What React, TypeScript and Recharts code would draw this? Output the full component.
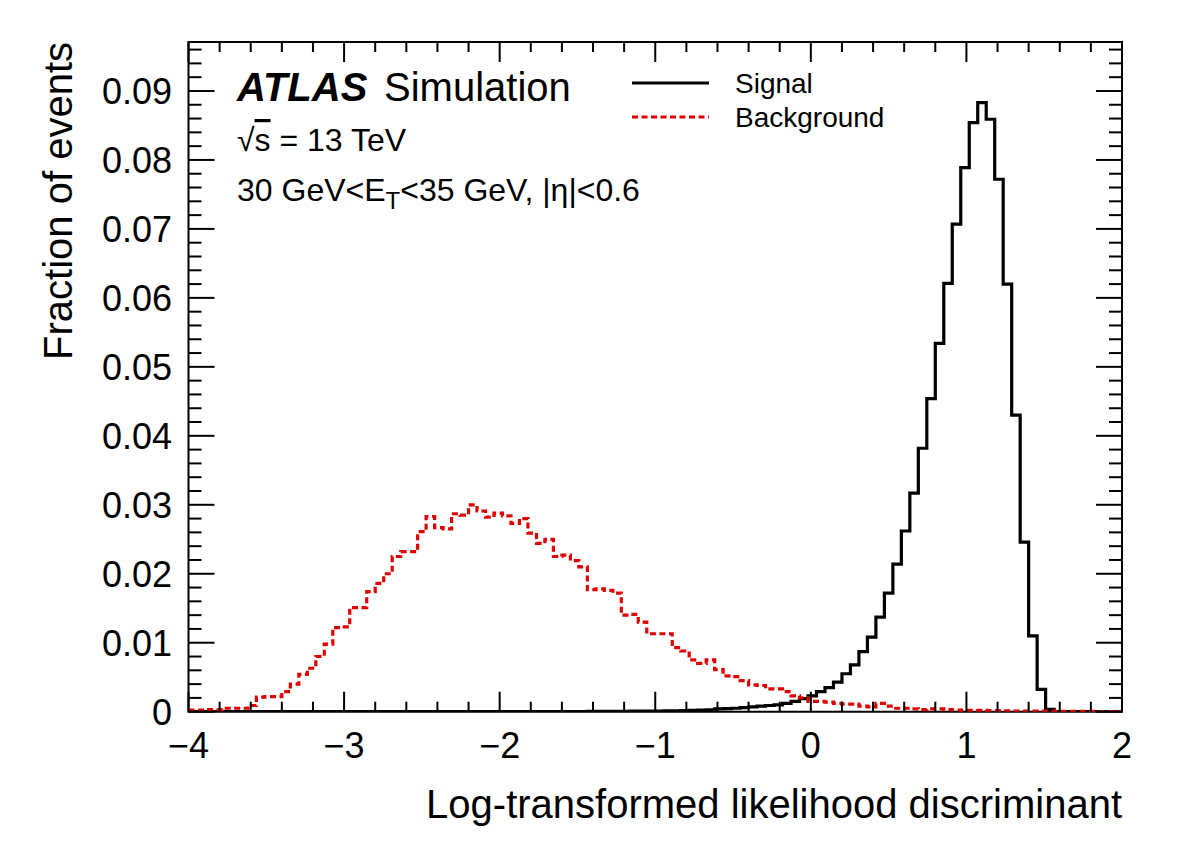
import React from 'react';
import { LineChart, Line, XAxis, YAxis, ReferenceArea } from 'recharts';

// histogram: 110 bins from -4 to 2
const X_MIN = -4;
const X_MAX = 2;
const N_BINS = 110;
const Y_MAX = 0.0971;

const signal = [
  0, 0, 0, 0, 0, 0, 0, 0, 0, 0,
  0, 0, 0, 0, 0, 0, 0, 0, 0, 0,
  0, 0, 0, 0, 0, 0, 0, 0, 0, 0,
  0, 0, 0, 0, 0, 0, 0, 0, 0, 0,
  0.00001, 0.00001, 0.00002, 0.00002, 0.00002, 0.00003, 0.00003, 0.00004, 0.00004, 0.00005,
  0.00005, 0.00006, 0.00007, 0.00008, 0.0001, 0.0001, 0.00012, 0.00014, 0.00016, 0.0002,
  0.00024, 0.00028, 0.0004, 0.00045, 0.0005, 0.0006, 0.0007, 0.0008, 0.0009, 0.001,
  0.0012, 0.0015, 0.0019, 0.0023, 0.0029, 0.0035, 0.0043, 0.0055, 0.0068, 0.0087,
  0.0108, 0.0137, 0.0172, 0.0214, 0.0262, 0.0317, 0.0382, 0.0454, 0.0534, 0.0621,
  0.0707, 0.0789, 0.0854, 0.0883, 0.0859, 0.0772, 0.062, 0.043, 0.0246, 0.011,
  0.00325, 0.00035, 0, 0, 0, 0, 0, 0, 0, 0,
];

const background = [
  0.00024, 0.00024, 0.0003, 0.0003, 0.0005, 0.0005, 0.0005, 0.0009, 0.0021, 0.0022,
  0.0022, 0.0029, 0.004, 0.0054, 0.0063, 0.008, 0.0098, 0.0122, 0.0123, 0.0151,
  0.0151, 0.0174, 0.0186, 0.02, 0.0225, 0.0232, 0.0232, 0.0261, 0.0283, 0.0267,
  0.0265, 0.0287, 0.0285, 0.03, 0.0291, 0.0282, 0.0288, 0.0284, 0.0273, 0.028,
  0.0259, 0.0244, 0.025, 0.0225, 0.0227, 0.0219, 0.021, 0.0177, 0.0178, 0.0176,
  0.0172, 0.014, 0.0141, 0.013, 0.0113, 0.0113, 0.0113, 0.0093, 0.0088, 0.0075,
  0.007, 0.0075, 0.0061, 0.0052, 0.0051, 0.0045, 0.0039, 0.0038, 0.0033, 0.0033,
  0.0029, 0.0023, 0.002, 0.0015, 0.0015, 0.0014, 0.0012, 0.0011, 0.0011, 0.0008,
  0.0007, 0.0012, 0.0008, 0.0005, 0.0005, 0.0004, 0.0003, 0.0004, 0.0004, 0.0003,
  0.00025, 0.0002, 0.0002, 0.0002, 0.00015, 0.00015, 0.00012, 0.0001, 0.0001, 0.0001,
  0.00008, 0.00008, 0.00006, 0.00006, 0.00005, 0.00005, 0.00004, 0.00003, 0.00003, 0.00002,
];

const xMajorLabels = ['\u22124', '\u22123', '\u22122', '\u22121', '0', '1', '2'];
const yMajorLabels = ['0', '0.01', '0.02', '0.03', '0.04', '0.05', '0.06', '0.07', '0.08', '0.09'];

const series = [
  { key: 'sig', name: 'Signal', color: '#000000', dash: undefined },
  { key: 'bkg', name: 'Background', color: '#e00000', dash: '6 3.5' },
];

const FONT = '"Liberation Sans", Arial, Helvetica, sans-serif';
const W = 1182;
const H = 848;
const PLOT = { left: 188.5, right: 1122, top: 42, bottom: 711.7 };
const X_AXIS_H = 60;
const Y_AXIS_W = 80;

const binWidth = (X_MAX - X_MIN) / N_BINS;
const data = Array.from({ length: N_BINS + 1 }, (_, k) => {
  const i = Math.min(k, N_BINS - 1);
  return { x: X_MIN + k * binWidth, sig: signal[i], bkg: background[i] };
});

// minor ticks every 0.2 on x, every 0.002 on y
const xTicks = Array.from({ length: 31 }, (_, i) => X_MIN + i * 0.2);
const yTicks = Array.from({ length: 49 }, (_, i) => i * 0.002);

function XTick(props: any) {
  const x = props.payload.coordinate;
  const step = Math.round((props.payload.value - X_MIN) / 0.2);
  const major = step % 5 === 0;
  const len = major ? 20 : 10;
  return (
    <g>
      <line x1={x} x2={x} y1={PLOT.bottom} y2={PLOT.bottom - len} stroke="#000" strokeWidth={2} />
      <line x1={x} x2={x} y1={PLOT.top} y2={PLOT.top + len} stroke="#000" strokeWidth={2} />
      {major && (
        <text x={x} y={758} textAnchor="middle" fontSize={36} fontFamily={FONT} fill="#000">
          {xMajorLabels[step / 5]}
        </text>
      )}
    </g>
  );
}

function YTick(props: any) {
  const y = props.payload.coordinate;
  const step = Math.round(props.payload.value / 0.002);
  const major = step % 5 === 0;
  const len = major ? 26 : 13;
  return (
    <g>
      <line x1={PLOT.left} x2={PLOT.left + len} y1={y} y2={y} stroke="#000" strokeWidth={2} />
      <line x1={PLOT.right} x2={PLOT.right - len} y1={y} y2={y} stroke="#000" strokeWidth={2} />
      {major && (
        <text x={172} y={y + 13} textAnchor="end" fontSize={36} fontFamily={FONT} fill="#000">
          {yMajorLabels[step / 5]}
        </text>
      )}
    </g>
  );
}

export default function App() {
  return (
    <div style={{ position: 'absolute', left: 0, top: 0, width: W, height: H, background: '#fff' }}>
      <LineChart
        width={W}
        height={H}
        data={data}
        margin={{
          top: PLOT.top,
          right: W - PLOT.right,
          bottom: H - PLOT.bottom - X_AXIS_H,
          left: PLOT.left - Y_AXIS_W,
        }}
      >
        <XAxis
          dataKey="x"
          type="number"
          domain={[X_MIN, X_MAX]}
          ticks={xTicks}
          interval={0}
          height={X_AXIS_H}
          axisLine={false}
          tickLine={false}
          tick={<XTick />}
          allowDataOverflow
        />
        <YAxis
          type="number"
          domain={[0, Y_MAX]}
          ticks={yTicks}
          interval={0}
          width={Y_AXIS_W}
          axisLine={false}
          tickLine={false}
          tick={<YTick />}
          allowDataOverflow
        />
        {series.map((s) => (
          <Line
            key={s.key}
            dataKey={s.key}
            type="stepAfter"
            stroke={s.color}
            strokeWidth={3.2}
            strokeDasharray={s.dash}
            dot={false}
            activeDot={false}
            isAnimationActive={false}
          />
        ))}
        <ReferenceArea
          x1={X_MIN}
          x2={X_MAX}
          y1={0}
          y2={Y_MAX}
          fill="none"
          fillOpacity={0}
          stroke="#000"
          strokeWidth={2}
          ifOverflow="visible"
        />
      </LineChart>

      <svg
        width={W}
        height={H}
        style={{ position: 'absolute', left: 0, top: 0, pointerEvents: 'none' }}
        fontFamily={FONT}
      >
        {/* axis titles */}
        <text x={PLOT.right} y={818} textAnchor="end" fontSize={40} fill="#000">
          Log-transformed likelihood discriminant
        </text>
        <text
          x={0}
          y={0}
          transform={`translate(72, ${PLOT.top}) rotate(-90)`}
          textAnchor="end"
          fontSize={40}
          fill="#000"
        >
          Fraction of events
        </text>

        {/* ATLAS label */}
        <text x={237} y={101} fontSize={40} fill="#000">
          <tspan fontWeight="bold" fontStyle="italic">ATLAS</tspan>
        </text>
        <text x={384} y={101} fontSize={40} fill="#000">Simulation</text>
        <text x={237} y={151} fontSize={32} fill="#000">
          √<tspan textDecoration="overline">s</tspan> = 13 TeV
        </text>
        <text x={237} y={201} fontSize={32} fill="#000">
          30 GeV&lt;E<tspan fontSize={24} dy={8}>T</tspan>
          <tspan dy={-8}>&lt;35 GeV, |η|&lt;0.6</tspan>
        </text>

        {/* legend */}
        {series.map((s, i) => (
          <g key={s.key}>
            <line
              x1={632}
              x2={709}
              y1={83 + i * 34}
              y2={83 + i * 34}
              stroke={s.color}
              strokeWidth={3.2}
              strokeDasharray={s.dash}
            />
            <text x={735} y={93 + i * 34} fontSize={28} fill="#000">
              {s.name}
            </text>
          </g>
        ))}
      </svg>
    </div>
  );
}
